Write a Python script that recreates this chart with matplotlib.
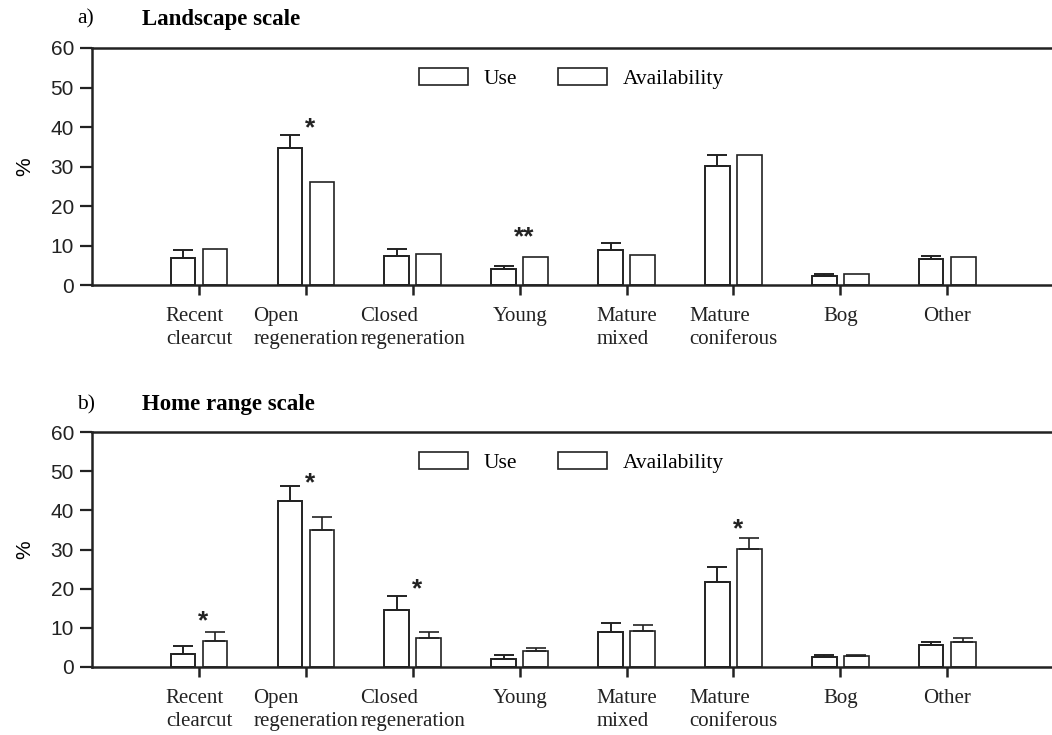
import numpy as np
import matplotlib.pyplot as plt
from matplotlib.patches import Patch

categories = ['Recent\nclearcut', 'Open\nregeneration', 'Closed\nregeneration', 'Young',
              'Mature\nmixed', 'Mature\nconiferous', 'Bog', 'Other']

# a) landscape scale
use_a = [6.8, 34.6, 7.4, 4.1, 8.9, 30.2, 2.3, 6.5]
use_a_err = [2.1, 3.3, 1.6, 0.7, 1.8, 2.7, 0.5, 0.85]
avail_a = [9.2, 26.0, 7.9, 7.2, 7.7, 32.8, 2.7, 7.2]
stars_a_pos = [1, 3]
stars_a_y = [39.6, 12.0]
stars_a_txt = ['*', '**']

# b) home range scale
use_b = [3.25, 42.4, 14.6, 2.05, 8.8, 21.8, 2.5, 5.55]
use_b_err = [1.95, 3.8, 3.4, 1.05, 2.4, 3.6, 0.5, 0.85]
avail_b = [6.65, 34.9, 7.3, 4.0, 9.05, 30.2, 2.65, 6.3]
avail_b_err = [2.15, 3.4, 1.6, 0.9, 1.55, 2.8, 0.25, 1.1]
stars_b_pos = [0, 1, 2, 5]
stars_b_y = [11.6, 47.0, 19.7, 35.1]
stars_b_txt = ['*', '*', '*', '*']

serif = 'Liberation Serif'
sans = 'Liberation Sans'

fig = plt.figure(figsize=(10.52, 7.35), dpi=100)
ax_a = fig.add_axes([0.0875, 0.6122, 0.9125, 0.3225])
ax_b = fig.add_axes([0.0875, 0.0929, 0.9125, 0.3189])

x = np.arange(len(categories))
w = 0.23
off = 0.15


def draw(ax, use, use_err, avail, avail_err, spos, sy, stxt):
    ax.bar(x - off, use, w, color='white', edgecolor='#222222', linewidth=1.4,
           yerr=[np.zeros(len(use)), use_err], capsize=7,
           error_kw=dict(ecolor='#222222', elinewidth=1.4, capthick=1.4))
    if avail_err is None:
        ax.bar(x + off, avail, w, color='white', edgecolor='#222222', linewidth=1.2)
    else:
        ax.bar(x + off, avail, w, color='white', edgecolor='#222222', linewidth=1.2,
               yerr=[np.zeros(len(avail)), avail_err], capsize=7,
               error_kw=dict(ecolor='#222222', elinewidth=1.2, capthick=1.2))
    for p, yy, t in zip(spos, sy, stxt):
        ax.text(p + 0.04, yy, t, ha='center', va='center', fontsize=19,
                family=sans, fontweight='bold', color='#222222')
    ax.set_xlim(-1, 7.98)
    ax.set_ylim(0, 60)
    ax.set_yticks(range(0, 61, 10))
    ax.set_xticks(x)
    ax.set_xticklabels(categories, family=serif, fontsize=15, multialignment='left',
                       linespacing=1.3)
    for lab in ax.get_xticklabels():
        lab.set_x(lab.get_position()[0])
    for lab in ax.get_yticklabels():
        lab.set_family(sans)
        lab.set_fontsize(15)
    ax.spines['right'].set_visible(False)
    for s in ['left', 'bottom', 'top']:
        ax.spines[s].set_linewidth(1.8)
        ax.spines[s].set_color('#222222')
    ax.tick_params(axis='x', length=7, width=1.8, pad=9, colors='#222222')
    ax.tick_params(axis='y', length=9, width=1.6, pad=4, colors='#222222')
    ax.set_ylabel('%', family=sans, fontsize=15, labelpad=12)
    handles = [Patch(facecolor='white', edgecolor='#222222', linewidth=1.2, label='Use'),
               Patch(facecolor='white', edgecolor='#222222', linewidth=1.2, label='Availability')]
    ax.legend(handles=handles, ncol=2, frameon=False, loc='center',
              bbox_to_anchor=(0.499, 0.87), prop={'family': serif, 'size': 15.5},
              handlelength=2.3, handleheight=0.85, columnspacing=1.9, handletextpad=0.7)


draw(ax_a, use_a, use_a_err, avail_a, None, stars_a_pos, stars_a_y, stars_a_txt)
draw(ax_b, use_b, use_b_err, avail_b, avail_b_err, stars_b_pos, stars_b_y, stars_b_txt)

fig.text(77 / 1052, 1 - 19 / 735, 'a)', family=serif, fontsize=15.5, va='center')
fig.text(142 / 1052, 1 - 19 / 735, 'Landscape scale', family=serif, fontsize=16.5,
         fontweight='bold', va='center')
fig.text(77 / 1052, 1 - 405 / 735, 'b)', family=serif, fontsize=15.5, va='center')
fig.text(142 / 1052, 1 - 405 / 735, 'Home range scale', family=serif, fontsize=16.5,
         fontweight='bold', va='center')

fig.savefig('out.png', dpi=100)
